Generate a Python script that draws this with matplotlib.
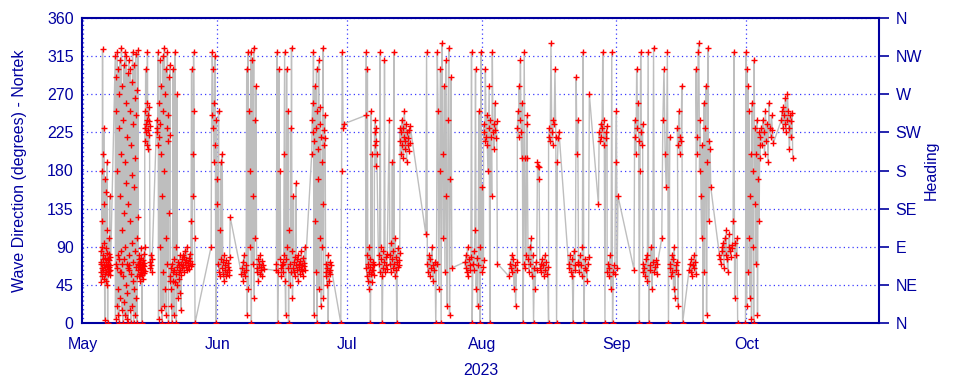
import numpy as np
import matplotlib
matplotlib.use("Agg")
import matplotlib.pyplot as plt
import matplotlib.dates as mdates

# Bursts of wave direction readings: start/end in days after 1 May 2023, and the readings (degrees)
burst_start = [4.1, 7.5, 12.8, 14.3, 15.5, 17.05, 20.2, 22.7, 29.6, 36.6, 44.5, 46.1, 52.8, 59.5,
               65.2, 68.2, 70.7, 73.2, 79.1, 88.1, 92.4, 98.3, 100.2, 102.5, 105.2, 107.4, 112.0,
               114.3, 118.9, 120.9, 127.1, 129.1, 133.5, 135.3, 137.1, 139.8, 141.4, 146.8, 152.8,
               156.2, 161.1]
burst_end = [6.4, 12.8, 14.3, 15.4, 16.0, 20.2, 22.7, 25.9, 34.0, 41.7, 46.1, 51.3, 57.2, 60.2,
             67.8, 70.2, 73.2, 75.5, 85.1, 92.4, 95.6, 100.2, 102.5, 105.2, 107.4, 109.8, 114.3,
             116.8, 120.9, 123.4, 129.1, 132.5, 135.3, 137.3, 138.3, 141.4, 144.8, 151.0, 156.2,
             159.2, 163.7]
burst_dirs = [
    [72, 60, 85, 48, 70, 120, 65, 180, 90, 55, 323, 75, 62, 200, 80, 52, 230, 68, 140, 95, 58, 3,
     77, 66, 170, 50, 88, 60, 155, 72, 110, 45, 67, 190, 83, 0, 64, 75, 70, 58, 82, 66, 100, 61,
     74, 150, 69, 57, 78, 63],
    [315, 5, 250, 70, 290, 20, 65, 180, 320, 40, 80, 300, 10, 230, 75, 270, 0, 60, 150, 310, 30,
     85, 200, 60, 325, 15, 110, 280, 70, 0, 240, 55, 130, 305, 25, 75, 190, 320, 10, 90, 260, 45,
     165, 315, 5, 70, 220, 35, 295, 65, 0, 140, 310, 80, 62, 68, 250, 15, 300, 120, 0, 210, 58,
     285, 95, 20, 175, 320, 50, 235, 72, 0, 160, 305, 40, 265, 85, 10, 195, 318, 66, 30, 245,
     100, 0, 275, 55, 125, 322, 70],
    [62, 70, 55, 75, 68, 80, 58, 66, 72, 50, 64, 77, 60, 88, 65, 0, 70, 57, 63, 74, 69, 52, 81,
     67, 59, 71, 90, 61],
    [230, 250, 215, 300, 235, 225, 260, 240, 210, 320, 228, 245, 205, 238, 222, 255, 232],
    [72, 65, 80, 68, 60, 75],
    [240, 225, 230, 210, 320, 5, 260, 220, 235, 90, 310, 15, 200, 280, 150, 0, 315, 60, 250, 20,
     180, 325, 40, 270, 100, 300, 10, 230, 70, 320, 215, 245, 0, 290, 130, 222, 305, 50],
    [55, 65, 40, 20, 70, 0, 60, 300, 50, 75, 10, 62, 320, 48, 90, 58, 0, 66, 270, 45, 72, 30, 60,
     68, 52, 80, 35, 63, 15, 57],
    [70, 75, 65, 80, 68, 60, 78, 72, 85, 66, 74, 90, 62, 71, 69, 77, 64, 82, 73, 67, 120, 300, 70,
     200, 150, 320, 250, 100, 0],
    [90, 245, 320, 300, 230, 260, 190, 315, 210, 0, 240, 170, 140, 70, 250, 60, 110, 55, 75, 190,
     65, 200, 58, 72, 50, 80, 62, 68, 55, 74, 60, 66, 71, 57, 63, 78, 125],
    [58, 65, 72, 50, 80, 60, 55, 68, 62, 300, 10, 320, 40, 250, 90, 180, 320, 0, 310, 70, 150, 325,
     30, 240, 100, 280, 60, 65, 75, 50, 70, 58, 80, 66, 62, 73, 56, 69, 64],
    [62, 70, 320, 0, 60, 300, 75, 180, 65, 55, 68, 72],
    [70, 60, 80, 200, 320, 50, 10, 75, 300, 90, 65, 250, 0, 110, 70, 45, 230, 60, 325, 85, 30, 65,
     150, 72, 60, 78, 55, 165, 68, 62, 75, 50, 80, 66, 70, 58, 73, 64, 85, 69, 61, 77, 56, 71, 67,
     90, 63],
    [200, 240, 260, 225, 320, 10, 215, 280, 120, 230, 60, 300, 0, 250, 205, 170, 310, 40, 235, 100,
     255, 220, 20, 190, 90, 140, 325, 30, 210, 228, 245, 218, 60, 55, 70, 45, 65, 80, 0, 60, 50,
     72, 63, 58, 68],
    [0, 180, 320, 230, 235],
    [245, 65, 320, 80, 55, 300, 70, 50, 60, 90, 40, 75, 66, 0, 58, 250, 62, 200, 48, 70, 63, 72,
     57, 68, 225, 210, 240, 185, 230, 215, 200],
    [70, 80, 60, 320, 75, 90, 55, 0, 65, 85, 72, 310, 60, 68, 78, 64, 82],
    [240, 70, 80, 60, 95, 75, 190, 65, 85, 320, 70, 55, 100, 78, 62, 0, 72, 88, 66, 74, 69, 83,
     230],
    [215, 225, 200, 240, 210, 230, 195, 220, 250, 205, 215, 235, 190, 225, 210, 218, 228, 203,
     212, 232],
    [105, 320, 70, 60, 80, 55, 75, 65, 90, 50, 68, 62, 72, 0, 70, 320, 250, 40, 180, 300, 0, 330,
     200, 100, 280, 60, 310, 150, 20, 240, 325, 10, 170, 290, 65],
    [72, 65, 80, 60, 90, 55, 75, 68, 62, 78, 320, 0, 70, 85, 62, 110, 300, 40, 77, 20, 68, 250,
     90, 0, 320, 60, 160, 66, 74],
    [225, 235, 215, 300, 220, 245, 210, 180, 230, 280, 0, 240, 220, 150, 320, 225, 235, 205, 260,
     228, 218, 238, 70],
    [55, 70, 65, 80, 60, 75, 40, 68, 20, 62, 72],
    [230, 250, 220, 280, 240, 310, 225, 195, 260, 0, 70, 320, 195, 65, 80, 235, 245],
    [195, 75, 60, 90, 70, 100, 55, 80, 0, 65, 40, 72, 62, 190, 185, 170],
    [184, 65, 70, 60, 75, 68, 55, 80, 62, 72, 58, 66, 0],
    [220, 230, 215, 330, 225, 210, 240, 235, 300, 220, 0, 190, 218, 226],
    [70, 65, 80, 60, 75, 55, 0, 85, 68, 62, 290, 200, 240, 70],
    [72, 60, 80, 68, 55, 90, 320, 0, 65, 75, 62, 50, 70, 78, 270],
    [140, 225, 215, 235, 220, 230, 320, 210, 240, 0, 225, 218, 232],
    [60, 70, 55, 65, 80, 40, 320, 0, 60, 68, 58, 190, 250, 65, 150],
    [63, 240, 220, 200, 300, 230, 260, 215, 0, 180, 320, 225, 210, 235],
    [60, 70, 65, 55, 75, 80, 50, 320, 0, 68, 62, 90, 40, 72, 325, 60, 66, 74, 58, 70],
    [100, 240, 300, 200, 160, 320, 0, 220],
    [65, 70, 55, 80, 60, 75, 40, 90, 30, 68, 62, 72, 58, 20],
    [230, 210, 250, 200, 220, 215, 280, 0],
    [63, 70, 60, 75, 55, 68, 80, 65, 72, 58],
    [300, 220, 200, 320, 330, 180, 240, 150, 100, 210, 0, 260, 60, 230, 280, 10, 190, 325, 120,
     215, 205, 160],
    [80, 75, 70, 85, 90, 95, 65, 100, 80, 110, 75, 60, 90, 105, 85, 78, 92, 88, 120, 320, 30, 95,
     80, 100, 0],
    [0, 320, 20, 300, 60, 280, 100, 250, 30, 150, 200, 5, 260, 90, 180, 0, 310, 140, 230, 70, 200,
     240, 10, 170, 225, 120, 210, 195],
    [220, 230, 210, 240, 225, 200, 250, 215, 235, 190, 260, 230, 220, 245, 228, 212],
    [240, 250, 230, 255, 245, 235, 265, 225, 240, 270, 250, 230, 205, 245, 220, 238, 248, 195],
]

heading_ticks = [0, 45, 90, 135, 180, 225, 270, 315, 360]
heading_labels = ["N", "NE", "E", "SE", "S", "SW", "W", "NW", "N"]

navy = "#0000a0"
base = np.datetime64("2023-05-01T00:00")

days = []
dirs = []
for s, e, vals in zip(burst_start, burst_end, burst_dirs):
    days.extend(np.linspace(s, e, len(vals)))
    dirs.extend(vals)
days = np.array(days)
times = base + (days * 86400).astype("timedelta64[s]")

plt.rcParams["font.family"] = ["Liberation Sans", "DejaVu Sans"]

fig = plt.figure(figsize=(9.6, 3.84), dpi=100)
ax = fig.add_axes([82 / 960, 61 / 384, 797 / 960, 305 / 384])

ax.plot(times, dirs, color="#bebebe", linewidth=1, zorder=2)
ax.plot(times, dirs, linestyle="none", marker="+", color="red", markersize=4,
        markeredgewidth=1, zorder=3)

ax.set_xlim(np.datetime64("2023-04-30T20:00"), np.datetime64("2023-10-31T14:00"))
ax.set_ylim(0, 360)
ax.set_yticks(heading_ticks)
ax.xaxis.set_major_locator(mdates.MonthLocator(bymonth=[5, 6, 7, 8, 9, 10]))
ax.xaxis.set_major_formatter(mdates.DateFormatter("%b"))

ax.grid(True, color="#3a3aff", linestyle=(0, (1, 2.5)), linewidth=0.9, zorder=1)
for sp in ax.spines.values():
    sp.set_color(navy)
    sp.set_linewidth(1.5)
ax.tick_params(axis="y", length=0, labelcolor=navy, labelsize=11.5, pad=6)
ax.tick_params(axis="x", length=0, labelcolor=navy, labelsize=11.5, pad=10)
ax.set_ylabel("Wave Direction (degrees) - Nortek", color=navy, fontsize=11.5, labelpad=14)
ax.set_xlabel("2023", color=navy, fontsize=11.5, labelpad=8)

ax2 = ax.twinx()
ax2.set_ylim(0, 360)
ax2.set_yticks(heading_ticks)
ax2.set_yticklabels(heading_labels)
ax2.tick_params(axis="y", length=7, width=1.2, color=navy, labelcolor=navy, labelsize=11.5,
                pad=5, direction="out")
ax2.set_ylabel("Heading", color=navy, fontsize=11.5, labelpad=1)
for sp in ax2.spines.values():
    sp.set_visible(False)

fig.savefig("out.png", dpi=100)
